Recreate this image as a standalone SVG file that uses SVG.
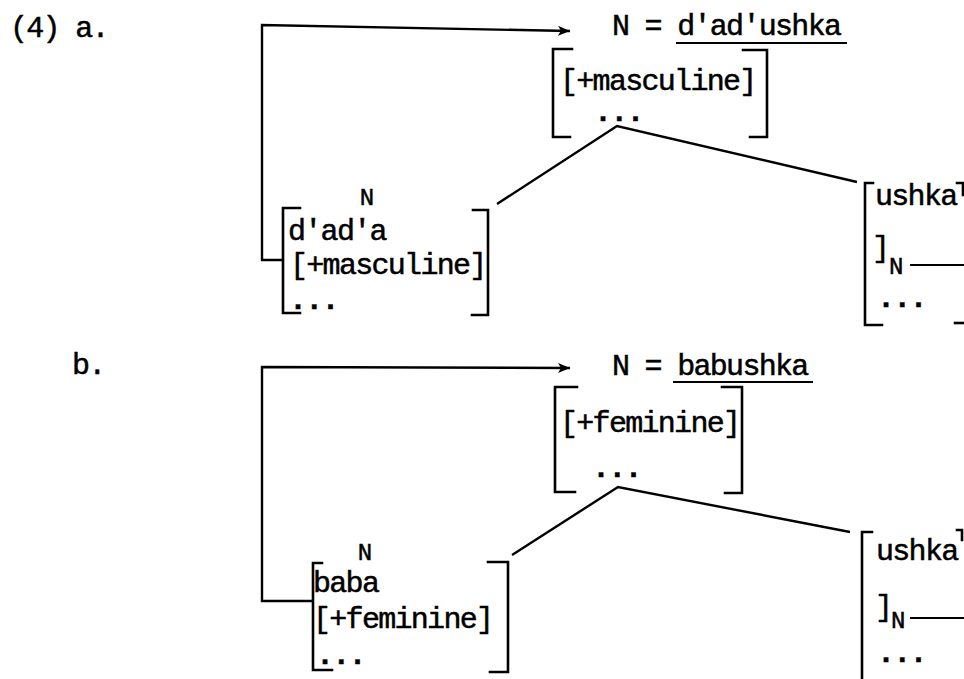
<svg xmlns="http://www.w3.org/2000/svg" width="964" height="679" viewBox="0 0 964 679">
<style>
text{font-family:"Liberation Mono","Courier New",monospace;font-size:30px;letter-spacing:-1.7px;fill:#000;stroke:#000;stroke-width:0.5px}
.sm{font-size:24px;letter-spacing:0}
.br{fill:none;stroke:#000;stroke-width:2.6;stroke-linecap:square;stroke-linejoin:miter}
.ln{fill:none;stroke:#000;stroke-width:2.4}
.ul{fill:none;stroke:#000;stroke-width:2}
.dots{font-weight:bold}
</style>
<defs>
<marker id="ah" markerUnits="userSpaceOnUse" markerWidth="14" markerHeight="10" refX="12" refY="5" orient="auto">
<path d="M0,0 L12,5 L0,10 L3,5 Z" fill="#000"/>
</marker>
</defs>
<rect width="964" height="679" fill="#fff"/>

<g id="label-a"><text x="10" y="37">(4) a.</text></g>
<g id="label-b"><text x="72" y="374">b.</text></g>

<g id="connectors">
<path class="ln" d="M282,260 H262 V25 L570,31" marker-end="url(#ah)"/>
<path class="ln" d="M497,204 L617,126 L857,182"/>
<path class="ln" d="M312,601 H262 V367 L570,368" marker-end="url(#ah)"/>
<path class="ln" d="M512,555 L618,487 L850,532"/>
<path class="ul" d="M910,265 H964"/>
<path class="ul" d="M910,618 H964"/>
</g>

<g id="node-a-top">
<text x="612" y="35">N = d'ad'ushka</text>
<path class="ul" d="M676,43 H847"/>
<path class="br" d="M572,49 H553 V137 H570"/>
<path class="br" d="M743,50 H767 V137 H750"/>
<text x="560" y="90">[+masculine]</text>
<text class="dots" x="594" y="121">...</text>
</g>

<g id="node-a-left">
<text class="sm" x="367" y="205" text-anchor="middle">N</text>
<path class="br" d="M300,208 H283 V313 H300"/>
<path class="br" d="M473,210 H488 V315 H472"/>
<text x="288" y="240">d'ad'a</text>
<text x="290" y="274">[+masculine]</text>
<text class="dots" x="289" y="309">...</text>
</g>

<g id="node-a-right">
<path class="br" d="M873,183 H865 V325 H882"/>
<path class="br" d="M957,183 H963 V195"/>
<path class="br" d="M955,323 H964"/>
<text x="875" y="205">ushka</text>
<text x="872" y="257">]</text>
<text class="sm" x="889" y="274">N</text>
<text class="dots" x="877" y="307">...</text>
</g>

<g id="node-b-top">
<text x="612" y="375">N = babushka</text>
<path class="ul" d="M673,382 H813"/>
<path class="br" d="M577,387 H555 V492 H575"/>
<path class="br" d="M722,387 H742 V493 H725"/>
<text x="560" y="432">[+feminine]</text>
<text class="dots" x="592" y="477">...</text>
</g>

<g id="node-b-left">
<text class="sm" x="365" y="560" text-anchor="middle">N</text>
<path class="br" d="M322,563 H313 V670 H332"/>
<path class="br" d="M488,562 H508 V672 H490"/>
<text x="313" y="592">baba</text>
<text x="313" y="628">[+feminine]</text>
<text class="dots" x="316" y="664">...</text>
</g>

<g id="node-b-right">
<path class="br" d="M872,532 H862 V679"/>
<path class="br" d="M957,530 H962 V540"/>
<text x="876" y="560">ushka</text>
<text x="875" y="616">]</text>
<text class="sm" x="891" y="628">N</text>
<text class="dots" x="877" y="662">...</text>
</g>
</svg>
